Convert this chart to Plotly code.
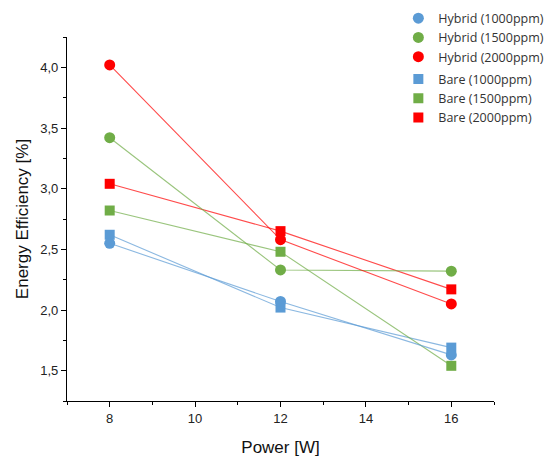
import plotly.graph_objects as go

# Power levels [W]
power = [8, 12, 16]

# Energy efficiency [%] per coating / concentration
hybrid_1000 = [2.55, 2.07, 1.63]
hybrid_1500 = [3.42, 2.33, 2.32]
hybrid_2000 = [4.02, 2.58, 2.05]
bare_1000 = [2.62, 2.02, 1.69]
bare_1500 = [2.82, 2.48, 1.54]
bare_2000 = [3.04, 2.65, 2.17]

labels_hybrid = ["Hybrid (1000ppm)", "Hybrid (1500ppm)", "Hybrid (2000ppm)"]
labels_bare = ["Bare (1000ppm)", "Bare (1500ppm)", "Bare (2000ppm)"]

BLUE = "#5B9BD5"
GREEN = "#70AD47"
RED = "#FF0000"
colors = [BLUE, GREEN, RED]

hybrid = [hybrid_1000, hybrid_1500, hybrid_2000]
bare = [bare_1000, bare_1500, bare_2000]

fig = go.Figure()

# connecting lines (drawn first, kept out of the legend)
for vals, c in zip(bare + hybrid, colors + colors):
    fig.add_trace(go.Scatter(x=power, y=vals, mode="lines",
                             line=dict(color=c, width=1.1), opacity=0.7,
                             showlegend=False, hoverinfo="skip"))

# markers
for vals, c, name in zip(bare, colors, labels_bare):
    fig.add_trace(go.Scatter(x=power, y=vals, mode="markers", name=name,
                             marker=dict(symbol="square", size=10, color=c),
                             legendgroup="bare", legendrank=2))
for vals, c, name in zip(hybrid, colors, labels_hybrid):
    fig.add_trace(go.Scatter(x=power, y=vals, mode="markers", name=name,
                             marker=dict(symbol="circle", size=11, color=c),
                             legendgroup="hybrid", legendrank=1))

axis_common = dict(
    showline=True, linecolor="black", linewidth=1.3, mirror=False,
    showgrid=False, zeroline=False,
    ticks="outside", ticklen=5, tickwidth=1.2, tickcolor="black",
    tickfont=dict(family="Liberation Sans, Arial", size=13, color="#222222"),
)

fig.update_layout(
    width=550, height=457,
    margin=dict(l=67, r=56, t=37, b=56, autoexpand=False),
    paper_bgcolor="white", plot_bgcolor="white",
    separators=",.",
    xaxis=dict(range=[7, 17], tickvals=[8, 10, 12, 14, 16],
               minor=dict(tickvals=[7, 9, 11, 13, 15, 17], ticks="outside",
                          ticklen=3, tickwidth=1.2, tickcolor="black"),
               title=dict(text="Power [W]", standoff=19,
                          font=dict(family="Liberation Sans, Arial", size=17, color="#111111")),
               **axis_common),
    yaxis=dict(range=[1.25, 4.25], tickvals=[1.5, 2.0, 2.5, 3.0, 3.5, 4.0],
               tickformat=".1f",
               minor=dict(dtick=0.25, tick0=1.25, ticks="outside",
                          ticklen=3, tickwidth=1.2, tickcolor="black"),
               title=dict(text="Energy Efficiency [%]", standoff=7,
                          font=dict(family="Liberation Sans, Arial", size=17, color="#111111")),
               **axis_common),
    legend=dict(x=0.776, y=1.092, xanchor="left", yanchor="top",
                traceorder="grouped", tracegroupgap=3,
                bgcolor="rgba(0,0,0,0)",
                font=dict(family="Open Sans, Noto Sans", size=12.5, color="#333333")),
)

fig.write_html("out.html")
